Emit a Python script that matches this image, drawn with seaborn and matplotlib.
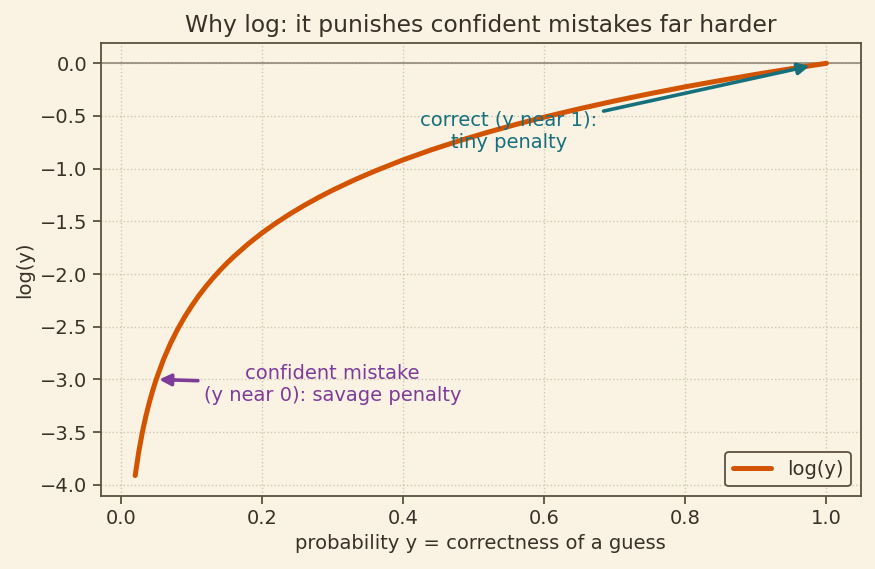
import matplotlib
matplotlib.use('Agg')
from matplotlib import pyplot as plt
import seaborn as sns
import pandas as pd

# values
prob = [0.02, 0.025, 0.03, 0.035, 0.04, 0.045, 0.05, 0.06, 0.07, 0.08, 0.09,
        0.10, 0.11, 0.12, 0.13, 0.14, 0.15, 0.16, 0.18, 0.20, 0.22, 0.24,
        0.26, 0.28, 0.30, 0.33, 0.36, 0.40, 0.44, 0.48, 0.52, 0.56, 0.60,
        0.65, 0.70, 0.75, 0.80, 0.85, 0.90, 0.95, 1.00]
log_prob = [-3.912, -3.689, -3.507, -3.352, -3.219, -3.101, -2.996, -2.813,
            -2.659, -2.526, -2.408, -2.303, -2.207, -2.120, -2.040, -1.966,
            -1.897, -1.833, -1.715, -1.609, -1.514, -1.427, -1.347, -1.273,
            -1.204, -1.109, -1.022, -0.916, -0.821, -0.734, -0.654, -0.580,
            -0.511, -0.431, -0.357, -0.288, -0.223, -0.163, -0.105, -0.051,
            0.000]

bg = '#faf2e3'
ink = '#3a3028'
edge = '#5c5040'
fs = 14

sns.set_theme(style='whitegrid', rc={
    'figure.facecolor': bg, 'axes.facecolor': bg,
    'axes.edgecolor': edge, 'axes.labelcolor': ink,
    'text.color': ink, 'xtick.color': ink, 'ytick.color': ink,
    'grid.color': '#cfc6b2', 'grid.linestyle': ':', 'grid.linewidth': 1.0,
    'xtick.bottom': True, 'ytick.left': True,
})
plt.rcParams['font.family'] = ['DejaVu Sans']

df = pd.DataFrame({'y': prob, 'log(y)': log_prob})

fig, ax = plt.subplots(figsize=(8.75, 5.69), dpi=100)
ax.axhline(0, color='#8a7f70', lw=1.1, zorder=1)
sns.lineplot(data=df, x='y', y='log(y)', color='#d35400', lw=3.6, label='log(y)', ax=ax)

for s in ax.spines.values():
    s.set_color(edge)
    s.set_linewidth(1.3)
ax.tick_params(axis='both', labelsize=fs, color=edge, length=6, width=1.3)

ax.annotate('correct (y near 1):\ntiny penalty', xy=(0.98, -0.02), xytext=(0.55, -0.65),
            ha='center', va='center', color='#16707c', fontsize=fs,
            arrowprops=dict(arrowstyle='-|>', color='#16707c', lw=2.6, mutation_scale=17))
ax.annotate('confident mistake\n(y near 0): savage penalty', xy=(0.05, -3.0), xytext=(0.30, -3.05),
            ha='center', va='center', color='#7d3c98', fontsize=fs,
            arrowprops=dict(arrowstyle='-|>', color='#7d3c98', lw=2.6, mutation_scale=17))

ax.set_xlabel('probability y = correctness of a guess', fontsize=fs)
ax.set_ylabel('log(y)', fontsize=fs)
ax.set_title('Why log: it punishes confident mistakes far harder', fontsize=16.8, pad=8)

leg = ax.legend(loc='lower right', fontsize=fs, facecolor=bg, edgecolor=edge, framealpha=1)
leg.get_frame().set_linewidth(1.3)

fig.subplots_adjust(left=0.115, right=0.984, top=0.925, bottom=0.128)
fig.savefig('out.png', dpi=100, facecolor=bg)
